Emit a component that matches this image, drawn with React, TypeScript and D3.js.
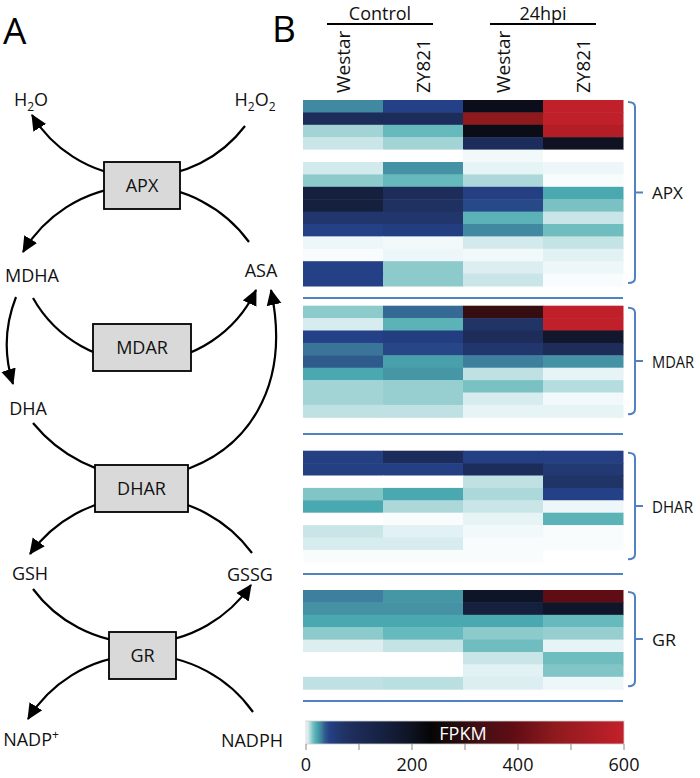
import React from "react";
import * as d3 from "d3";

// ---------------- data ----------------
const samples = ["Westar", "ZY821", "Westar", "ZY821"];
const conditions = ["Control", "24hpi"];
const groups = ["APX", "MDAR", "DHAR", "GR"];

// FPKM per gene (rows) x sample (Control Westar, Control ZY821, 24hpi Westar, 24hpi ZY821)
const apxFPKM = [
  [27, 45, 210, 590],
  [90, 90, 470, 590],
  [9, 15, 215, 560],
  [5, 9, 90, 200],
  [0, 0, 1, 0],
  [4, 25, 2, 1.5],
  [11, 15, 8, 0.5],
  [150, 95, 48, 20],
  [150, 80, 42, 13],
  [65, 65, 17, 5],
  [45, 50, 27, 14],
  [1.5, 1, 4, 5.5],
  [0.5, 1.5, 1, 2.5],
  [45, 11, 3, 1.5],
  [45, 11, 5, 0.5],
];
const mdarFPKM = [
  [11, 33, 310, 590],
  [3.5, 17, 70, 590],
  [45, 50, 95, 180],
  [31, 43, 65, 95],
  [36, 22, 29, 25],
  [20, 24, 6, 2],
  [9, 10, 13, 7],
  [9, 10, 3.5, 1],
  [6, 6, 2, 2],
];
const dharFPKM = [
  [48, 90, 47, 47],
  [48, 47, 90, 60],
  [0, 0, 6, 70],
  [12, 20, 8, 45],
  [20, 8, 5, 1.5],
  [0, 0.5, 2, 17],
  [5, 2.5, 1, 0.5],
  [3.5, 3.5, 0.5, 0.5],
  [0.5, 0.5, 0.5, 0],
];
const grFPKM = [
  [29, 24, 190, 390],
  [25, 25, 150, 185],
  [20, 20, 20, 15],
  [11, 15, 11, 10],
  [3, 5.5, 14, 2],
  [0, 0, 5, 14],
  [0, 0, 2.5, 12],
  [6, 6.5, 3, 1.5],
];
const groupData = [apxFPKM, mdarFPKM, dharFPKM, grFPKM];

const colorbarTicks = [0, 100, 200, 300, 400, 500, 600];
const colorbarLabels = [0, 200, 400, 600];

// colour map (value stops -> colours)
const cmapStops = [0, 1, 3, 6, 9, 12, 15, 20, 25, 30, 36, 45, 70, 100, 150, 200, 235, 330, 390, 470, 600];
const cmapColors = [
  "#ffffff", "#f2f9fa", "#dceef0", "#bfe1e3", "#a2d4d6", "#82c5c6", "#66b9bc",
  "#4aa9b0", "#4592a4", "#3c7a9c", "#2e5a8c", "#244086", "#203466", "#1c2a56",
  "#15203e", "#0e1222", "#050505", "#431014", "#600c14", "#8e1a1e", "#c4202a",
];

// ---------------- layout ----------------
const W = 700;
const H = 778;
const FONT = "'Open Sans', 'DejaVu Sans', sans-serif";
const HEAT_X0 = 303;
const HEAT_X1 = 623;
const ROW_H = 12.4;
const blockTops = [100, 305.7, 450.7, 590];
const sepYs = [298, 434, 574, 701];
const groupLabelWidths = [31, 42, 41, 24];
const BLUE = "#4f81c4";

const color = d3.scaleLinear<string>().domain(cmapStops).range(cmapColors).clamp(true);
const xCol = d3.scaleBand<number>().domain(d3.range(samples.length)).range([HEAT_X0, HEAT_X1]);
const cbX = d3.scaleLinear().domain([0, 600]).range([306, 624]);

type P = [number, number];
function arc3(p0: P, pm: P, p1: P) {
  const [x1, y1] = p0, [x2, y2] = pm, [x3, y3] = p1;
  const d = 2 * (x1 * (y2 - y3) + x2 * (y3 - y1) + x3 * (y1 - y2));
  const s1 = x1 * x1 + y1 * y1, s2 = x2 * x2 + y2 * y2, s3 = x3 * x3 + y3 * y3;
  const ux = (s1 * (y2 - y3) + s2 * (y3 - y1) + s3 * (y1 - y2)) / d;
  const uy = (s1 * (x3 - x2) + s2 * (x1 - x3) + s3 * (x2 - x1)) / d;
  const r = Math.hypot(x1 - ux, y1 - uy);
  const cross = (x2 - x1) * (y3 - y2) - (y2 - y1) * (x3 - x2);
  const sweep = cross > 0 ? 1 : 0;
  const side = (px: number, py: number) => (x3 - x1) * (py - y1) - (y3 - y1) * (px - x1);
  const large = side(ux, uy) * side(x2, y2) > 0 ? 1 : 0;
  return `M${x1},${y1} A${r},${r} 0 ${large} ${sweep} ${x3},${y3}`;
}

const arcs: { d: string; arrow: boolean }[] = [
  { d: arc3([245, 126], [142, 177], [32, 115]), arrow: true },
  { d: arc3([249, 242], [142, 186], [23, 252]), arrow: true },
  { d: arc3([33, 298], [142, 362], [256, 290]), arrow: true },
  { d: arc3([16, 297], [7, 340], [13, 384]), arrow: true },
  { d: arc3([33, 423], [95, 468], [142, 478]), arrow: false },
  { d: "M178,472 C245,452 292,390 271,290", arrow: true },
  { d: arc3([252, 553], [142, 497], [30, 554]), arrow: true },
  { d: arc3([33, 589], [142, 643], [251, 585]), arrow: true },
  { d: arc3([253, 712], [142, 655], [28, 719]), arrow: true },
];

const boxes = [
  { label: "APX", x: 104, y: 162, w: 76, h: 47 },
  { label: "MDAR", x: 93, y: 324, w: 98, h: 47 },
  { label: "DHAR", x: 95, y: 465, w: 93, h: 47 },
  { label: "GR", x: 109, y: 632, w: 67, h: 47 },
];

const metabolites = [
  { parts: [["H", 0], ["2", 1], ["O", 0]], x: 31, y: 106 },
  { parts: [["H", 0], ["2", 1], ["O", 0], ["2", 1]], x: 255, y: 106 },
  { parts: [["MDHA", 0]], x: 32, y: 282 },
  { parts: [["ASA", 0]], x: 261, y: 277 },
  { parts: [["DHA", 0]], x: 28, y: 415 },
  { parts: [["GSH", 0]], x: 30, y: 580 },
  { parts: [["GSSG", 0]], x: 250, y: 581 },
  { parts: [["NADP", 0], ["+", -1]], x: 31, y: 746 },
  { parts: [["NADPH", 0]], x: 252, y: 747 },
];

function Metabolite({ parts, x, y }: { parts: any[]; x: number; y: number }) {
  let prev = 0;
  return (
    <text x={x} y={y} textAnchor="middle" fontSize={18} fontFamily={FONT} fill="#111">
      {parts.map(([t, s], i) => {
        const dy = s === 1 ? 5 - prev : s === -1 ? -7 - prev : -prev;
        prev = s === 1 ? 5 : s === -1 ? -7 : 0;
        return (
          <tspan key={i} dy={dy} fontSize={s === 0 ? 18 : 12}>
            {t}
          </tspan>
        );
      })}
    </text>
  );
}

export default function App() {
  return (
    <svg
      width={W}
      height={H}
      viewBox={`0 0 ${W} ${H}`}
      style={{ position: "absolute", left: 0, top: 0, background: "#fff" }}
    >
      <defs>
        <marker
          id="arrow"
          markerUnits="userSpaceOnUse"
          markerWidth={16}
          markerHeight={16}
          viewBox="0 0 15 14"
          refX={14}
          refY={7}
          orient="auto"
        >
          <path d="M0,0 L15,7 L0,14 z" fill="#000" />
        </marker>
        <linearGradient id="cbar" x1="0" x2="1" y1="0" y2="0">
          {cmapStops.map((v, i) => (
            <stop key={i} offset={v / 600} stopColor={cmapColors[i]} />
          ))}
        </linearGradient>
      </defs>

      {/* Panel labels */}
      <text x={3} y={44} fontSize={37} fontFamily={FONT} fill="#000">A</text>
      <text x={272} y={42} fontSize={37} fontFamily={FONT} fill="#000">B</text>

      {/* Panel A: pathway diagram */}
      <g fill="none" stroke="#000" strokeWidth={2.2}>
        {arcs.map((a, i) => (
          <path key={i} d={a.d} markerEnd={a.arrow ? "url(#arrow)" : undefined} />
        ))}
      </g>
      {boxes.map((b) => (
        <g key={b.label}>
          <rect x={b.x} y={b.y} width={b.w} height={b.h} fill="#d9d9d9" stroke="#000" strokeWidth={1.8} />
          <text
            x={b.x + b.w / 2}
            y={b.y + b.h / 2 + 6.5}
            textAnchor="middle"
            fontSize={18}
            fontFamily={FONT}
            fill="#111"
          >
            {b.label}
          </text>
        </g>
      ))}
      {metabolites.map((m, i) => (
        <Metabolite key={i} {...m} />
      ))}

      {/* Panel B: header */}
      {conditions.map((c, i) => {
        const x0 = xCol(i * 2)!;
        const x1 = xCol(i * 2 + 1)! + xCol.bandwidth();
        const cx = (x0 + x1) / 2 - (i === 0 ? 3 : 0);
        return (
          <g key={c}>
            <text x={cx} y={20} textAnchor="middle" fontSize={18} fontFamily={FONT} fill="#111">
              {c}
            </text>
            <line x1={cx - 53} x2={cx + 53} y1={24} y2={24} stroke="#000" strokeWidth={2} />
          </g>
        );
      })}
      {samples.map((s, i) => {
        const x = xCol(i)! + xCol.bandwidth() / 2 + 7;
        const y = 93;
        return (
          <text
            key={i}
            x={x}
            y={y}
            transform={`rotate(-90 ${x} ${y})`}
            fontSize={19}
            fontFamily={FONT}
            fill="#111"
          >
            {s}
          </text>
        );
      })}

      {/* heatmap blocks */}
      {groupData.map((rows, g) => {
        const top = blockTops[g];
        const yRow = d3.scaleLinear().domain([0, rows.length]).range([top, top + rows.length * ROW_H]);
        const bTop = top + 2;
        const bBot = yRow(rows.length) - 3;
        const mid = (bTop + bBot) / 2;
        return (
          <g key={groups[g]}>
            {rows.map((r, ri) =>
              r.map((v, ci) => (
                <rect
                  key={`${ri}-${ci}`}
                  x={xCol(ci)!}
                  y={yRow(ri)}
                  width={xCol.bandwidth() + 0.5}
                  height={ROW_H + 0.5}
                  fill={color(v)}
                />
              ))
            )}
            <line
              x1={HEAT_X0}
              x2={HEAT_X1}
              y1={sepYs[g]}
              y2={sepYs[g]}
              stroke={BLUE}
              strokeWidth={2}
            />
            <path
              d={`M628,${bTop} Q635,${bTop} 635,${bTop + 5} L635,${bBot - 5} Q635,${bBot} 628,${bBot} M635,${mid} L643,${mid}`}
              fill="none"
              stroke={BLUE}
              strokeWidth={2}
            />
            <text
              x={652}
              y={mid + 6.5}
              fontSize={17}
              fontFamily={FONT}
              fill="#111"
              textLength={groupLabelWidths[g]}
              lengthAdjust="spacingAndGlyphs"
            >
              {groups[g]}
            </text>
          </g>
        );
      })}

      {/* colour bar */}
      <rect x={cbX(0)} y={721} width={cbX(600) - cbX(0)} height={23} fill="url(#cbar)" stroke="#cfcfcf" strokeWidth={0.8} />
      <text x={463} y={740} textAnchor="middle" fontSize={18} fontFamily={FONT} fill="#fff">
        FPKM
      </text>
      {colorbarTicks.map((t) => (
        <line key={t} x1={cbX(t)} x2={cbX(t)} y1={744} y2={750} stroke="#888" strokeWidth={1} />
      ))}
      {colorbarLabels.map((t) => (
        <text key={t} x={cbX(t)} y={771} textAnchor="middle" fontSize={18} fontFamily={FONT} fill="#111">
          {t}
        </text>
      ))}
    </svg>
  );
}
